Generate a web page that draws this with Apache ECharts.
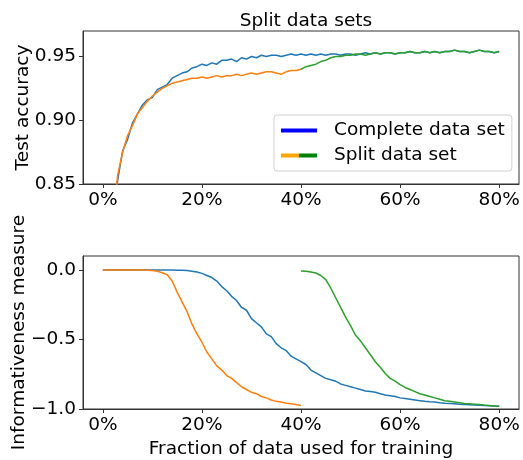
<!DOCTYPE html>
<html>
<head>
<meta charset="utf-8">
<script src="https://cdn.jsdelivr.net/npm/echarts@6/dist/echarts.min.js"></script>
<style>
  html, body { margin: 0; padding: 0; background: #fff; }
  #chart { width: 523px; height: 460px; }
</style>
</head>
<body>
<div id="chart"></div>
<script>
// x positions are fraction of data, one sample every 1%
const step = 0.01;
const xTicks = [0, 0.2, 0.4, 0.6, 0.8];
const accTicks = [0.85, 0.90, 0.95];
const infoTicks = [-1.0, -0.5, 0.0];

// test accuracy, complete data set, 0% .. 80%
const accComplete = [
  0.700, 0.760, 0.820, 0.853, 0.876, 0.885, 0.898, 0.905, 0.912, 0.916,
  0.918, 0.924, 0.926, 0.928, 0.933, 0.935, 0.937, 0.938, 0.941, 0.942,
  0.944, 0.943, 0.945, 0.944, 0.947, 0.947, 0.948, 0.946, 0.949, 0.948,
  0.950, 0.949, 0.951, 0.950, 0.951, 0.951, 0.950, 0.951, 0.952, 0.951,
  0.952, 0.951, 0.952, 0.951, 0.952, 0.951, 0.952, 0.952, 0.951, 0.952,
  0.952, 0.951, 0.952, 0.953, 0.952, 0.953, 0.952, 0.953, 0.953, 0.952,
  0.953, 0.953, 0.954, 0.953, 0.953, 0.954, 0.953, 0.954, 0.953, 0.954,
  0.954, 0.955, 0.954, 0.954, 0.953, 0.954, 0.955, 0.954, 0.954, 0.953,
  0.954
];
// test accuracy, split data set, first part 0% .. 40%
const accSplitA = [
  0.700, 0.770, 0.820, 0.857, 0.875, 0.888, 0.896, 0.905, 0.910, 0.915,
  0.919, 0.922, 0.925, 0.927, 0.929, 0.930, 0.931, 0.932, 0.933, 0.933,
  0.934, 0.933, 0.934, 0.935, 0.934, 0.935, 0.935, 0.936, 0.935, 0.936,
  0.937, 0.936, 0.937, 0.938, 0.938, 0.937, 0.936, 0.938, 0.939, 0.939,
  0.940
];
// test accuracy, split data set, second part 40% .. 80%
const accSplitB = [
  0.940, 0.942, 0.943, 0.944, 0.946, 0.947, 0.949, 0.950, 0.950, 0.951,
  0.951, 0.952, 0.952, 0.951, 0.952, 0.953, 0.952, 0.953, 0.953, 0.952,
  0.953, 0.953, 0.954, 0.953, 0.953, 0.954, 0.953, 0.954, 0.953, 0.954,
  0.954, 0.955, 0.954, 0.954, 0.953, 0.954, 0.955, 0.954, 0.954, 0.953,
  0.954
];

// informativeness measure, complete data set, 0% .. 80%
const infoComplete = [
  0, 0, 0, 0, 0, 0, 0, 0, 0, 0,
  0, 0, 0, 0, 0, -0.002, -0.003, -0.005, -0.010, -0.015,
  -0.025, -0.040, -0.055, -0.080, -0.120, -0.150, -0.190, -0.220, -0.270, -0.290,
  -0.350, -0.380, -0.410, -0.460, -0.480, -0.530, -0.560, -0.580, -0.620, -0.640,
  -0.660, -0.680, -0.720, -0.740, -0.760, -0.780, -0.790, -0.800, -0.820, -0.830,
  -0.840, -0.850, -0.860, -0.870, -0.875, -0.880, -0.890, -0.900, -0.905, -0.910,
  -0.920, -0.925, -0.930, -0.935, -0.940, -0.945, -0.948, -0.950, -0.955, -0.958,
  -0.960, -0.962, -0.965, -0.967, -0.969, -0.971, -0.973, -0.975, -0.976, -0.978,
  -0.980
];
// informativeness measure, split data set, first part 0% .. 40%
const infoSplitA = [
  0, 0, 0, 0, 0, 0, 0, 0, 0, -0.002,
  -0.005, -0.010, -0.020, -0.035, -0.080, -0.160, -0.230, -0.300, -0.390, -0.460,
  -0.520, -0.590, -0.640, -0.690, -0.720, -0.760, -0.780, -0.810, -0.840, -0.860,
  -0.880, -0.890, -0.910, -0.920, -0.935, -0.945, -0.950, -0.958, -0.962, -0.968,
  -0.975
];
// informativeness measure, split data set, second part 40% .. 80%
const infoSplitB = [
  -0.007, -0.010, -0.015, -0.022, -0.040, -0.070, -0.130, -0.200, -0.270, -0.340,
  -0.400, -0.470, -0.510, -0.560, -0.610, -0.660, -0.700, -0.745, -0.780, -0.800,
  -0.825, -0.845, -0.860, -0.875, -0.890, -0.900, -0.910, -0.920, -0.930, -0.940,
  -0.945, -0.950, -0.955, -0.960, -0.962, -0.965, -0.968, -0.972, -0.975, -0.978,
  -0.980
];

const C_BLUE = '#1f77b4';
const C_ORANGE = '#ff7f0e';
const C_GREEN = '#2ca02c';
const FONT = 'DejaVu Sans';
const FS = 18.5;
const SPINE = '#333';

function pairs(start, values) {
  return values.map((v, i) => [+(start + i * step).toFixed(2), v]);
}
const minus = s => s.replace('-', '\u2212');

function xAxisFor(gridIndex, withName) {
  return {
    type: 'value', gridIndex: gridIndex, min: -0.04, max: 0.84,
    splitLine: { show: false },
    axisLine: { show: true, onZero: false, lineStyle: { color: SPINE, width: 1 } },
    axisTick: { show: true, length: 4, customValues: xTicks, lineStyle: { color: SPINE } },
    axisLabel: {
      customValues: xTicks, color: '#000', fontFamily: FONT, fontSize: FS, margin: 7,
      formatter: v => Math.round(v * 100) + '%'
    },
    name: withName ? 'Fraction of data used for training' : '',
    nameLocation: 'middle', nameGap: 31, nameMoveOverlap: false,
    nameTextStyle: { color: '#000', fontFamily: FONT, fontSize: FS }
  };
}

function yAxisFor(gridIndex, min, max, ticks, digits, name, gap) {
  return {
    type: 'value', gridIndex: gridIndex, min: min, max: max,
    splitLine: { show: false },
    axisLine: { show: true, onZero: false, lineStyle: { color: SPINE, width: 1 } },
    axisTick: { show: true, length: 4, customValues: ticks, lineStyle: { color: SPINE } },
    axisLabel: {
      customValues: ticks, color: '#000', fontFamily: FONT, fontSize: FS, margin: 7,
      formatter: v => minus(v.toFixed(digits))
    },
    name: name, nameLocation: 'middle', nameGap: gap, nameMoveOverlap: false,
    nameTextStyle: { color: '#000', fontFamily: FONT, fontSize: FS }
  };
}

function line(name, xi, yi, color, data) {
  return {
    name: name, type: 'line', xAxisIndex: xi, yAxisIndex: yi,
    data: data, showSymbol: false, symbol: 'none', clip: true,
    lineStyle: { color: color, width: 1.5 }, itemStyle: { color: color },
    emphasis: { disabled: true }, animation: false
  };
}

const splitIcon = new echarts.graphic.LinearGradient(0, 0, 1, 0, [
  { offset: 0, color: '#ffa500' }, { offset: 0.5, color: '#ffa500' },
  { offset: 0.5, color: '#008000' }, { offset: 1, color: '#008000' }
]);

const gridBase = {
  left: 83, right: 4, height: 153, show: true, borderColor: SPINE, borderWidth: 1,
  backgroundColor: 'transparent', containLabel: false, outerBoundsMode: 'none'
};

const chart = echarts.init(document.getElementById('chart'), null, { renderer: 'canvas' });
chart.setOption({
  animation: false,
  backgroundColor: '#fff',
  title: {
    text: 'Split data sets', left: 301, top: 7, textAlign: 'center',
    textStyle: { color: '#000', fontFamily: FONT, fontSize: FS, fontWeight: 'normal' }
  },
  legend: {
    orient: 'vertical', left: 274, top: 115,
    padding: [6, 7, 6, 7], itemGap: 6, itemWidth: 36, itemHeight: 4,
    backgroundColor: 'rgba(255,255,255,0.8)', borderColor: '#d0d0d0', borderWidth: 1, borderRadius: 3,
    textStyle: { color: '#000', fontFamily: FONT, fontSize: FS, padding: [0, 0, 0, 12] },
    selectedMode: false,
    data: [
      { name: 'Complete data set', icon: 'rect', itemStyle: { color: '#0000ff' } },
      { name: 'Split data set', icon: 'rect', itemStyle: { color: splitIcon } }
    ]
  },
  grid: [
    Object.assign({}, gridBase, { top: 31 }),
    Object.assign({}, gridBase, { top: 256 })
  ],
  xAxis: [xAxisFor(0, false), xAxisFor(1, true)],
  yAxis: [
    yAxisFor(0, 0.85, 0.97, accTicks, 2, 'Test accuracy', 50),
    yAxisFor(1, -1.0, 0.1, infoTicks, 1, 'Informativeness measure', 54)
  ],
  series: [
    line('Complete data set', 0, 0, C_BLUE, pairs(0, accComplete)),
    line('Split data set', 0, 0, C_ORANGE, pairs(0, accSplitA)),
    line('Split data set', 0, 0, C_GREEN, pairs(0.4, accSplitB)),
    line('info complete', 1, 1, C_BLUE, pairs(0, infoComplete)),
    line('info split A', 1, 1, C_ORANGE, pairs(0, infoSplitA)),
    line('info split B', 1, 1, C_GREEN, pairs(0.4, infoSplitB))
  ]
});
</script>
</body>
</html>
